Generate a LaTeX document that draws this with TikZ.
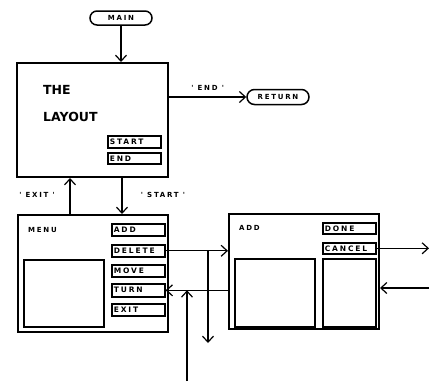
\documentclass[tikz,border=0pt]{standalone}
\usepackage{fontspec}
\setmainfont{DejaVu Sans}
\newfontfamily\scrfont{DejaVu Sans}[LetterSpace=25]
\usetikzlibrary{arrows.meta,positioning,shapes.misc}

\begin{document}
\begin{tikzpicture}[
  x=1pt, y=-1pt,
  term/.style={draw, rounded rectangle, line width=1.5pt, minimum width=62pt, minimum height=14pt, inner sep=0pt, font=\scrfont\bfseries\fontsize{7}{7}\selectfont},
  screen/.style={draw, line width=2pt, anchor=north west, inner sep=0pt},
  pane/.style={draw, line width=1.6pt, anchor=north west, inner sep=0pt},
  btn/.style={draw, line width=1.6pt, anchor=north west, minimum height=12pt, inner xsep=2pt, inner ysep=0pt, text width=49pt, align=left, font=\scrfont\bfseries\fontsize{7.5}{7.5}\selectfont},
  title/.style={anchor=west, inner sep=0pt, font=\bfseries\fontsize{12.5}{12.5}\selectfont},
  tag/.style={inner sep=0pt, font=\scrfont\bfseries\fontsize{7}{7}\selectfont},
  arr/.style={-{Straight Barb[length=6pt, width=11pt]}, line width=1.2pt}
]
  \useasboundingbox (0,0) rectangle (430,381);

  % terminals
  \node[term] (main) at (121,18) {MAIN};
  \node[term, minimum height=15pt] (ret) at (278,97) {RETURN};

  % the layout screen
  \node[screen, minimum width=151pt, minimum height=114pt] (layout) at (16,62) {};
  \node[title] (the) at (43,90) {THE};
  \node[title] (lay) at (43,117) {LAYOUT};
  \node[btn] (start) at (107,135) {START};
  \node[btn, minimum height=11pt] (end) at (107,152) {END};

  % menu screen
  \node[screen, minimum width=150pt, minimum height=117pt] (menu) at (17,214) {};
  \node[tag, anchor=west] (menulbl) at (28,230) {MENU};
  \node[pane, minimum width=80pt, minimum height=67pt] (menupane) at (23,259) {};
  \node[btn] (add) at (111,223) {ADD};
  \node[btn] (delete) at (111,244) {DELETE};
  \node[btn] (move) at (111,264) {MOVE};
  \node[btn, minimum height=13pt] (turn) at (111,283) {TURN};
  \node[btn] (exit) at (111,303) {EXIT};

  % add screen
  \node[screen, minimum width=150pt, minimum height=115pt] (addscr) at (228,213) {};
  \node[tag, anchor=west] (addlbl) at (239,228) {ADD};
  \node[btn, minimum height=11pt] (done) at (322,222) {DONE};
  \node[btn, minimum height=11pt] (cancel) at (322,242) {CANCEL};
  \node[pane, minimum width=80pt, minimum height=68pt] (addpane) at (234,258) {};
  \node[pane, minimum width=53pt, minimum height=68pt] (sidepane) at (322,258) {};

  % free ends
  \coordinate (exitx) at (70,0);
  \coordinate (startx) at (122,0);
  \coordinate (forkend) at (208,343);
  \coordinate (upfoot) at (187,381);
  \coordinate (rightout) at (429,249);
  \coordinate (rightin) at (429,288);

  % connectors
  \draw[arr] (main) -- (layout.north -| main);
  \draw[arr] (layout.east |- ret) -- (ret.west) node[tag, midway, above=6pt] (endlbl) {' END '};
  \draw[arr] (menu.north -| exitx) -- (layout.south -| exitx);
  \draw[arr] (layout.south -| startx) -- (menu.north -| startx);
  \node[tag] (exitlbl) at (37,195) {' EXIT '};
  \node[tag] (startlbl) at (163,195) {' START '};

  \draw[arr] (delete.east) -- (delete.east -| addscr.west);
  \draw[arr] (delete.east -| forkend) -- (forkend);
  \draw[arr] (addscr.west |- turn.east) -- (turn.east);
  \draw[arr] (upfoot) -- (upfoot |- turn.east);
  \draw[arr] (cancel.east) -- (cancel.east -| rightout);
  \draw[arr] (rightin) -- (rightin -| addscr.east);
\end{tikzpicture}
\end{document}
